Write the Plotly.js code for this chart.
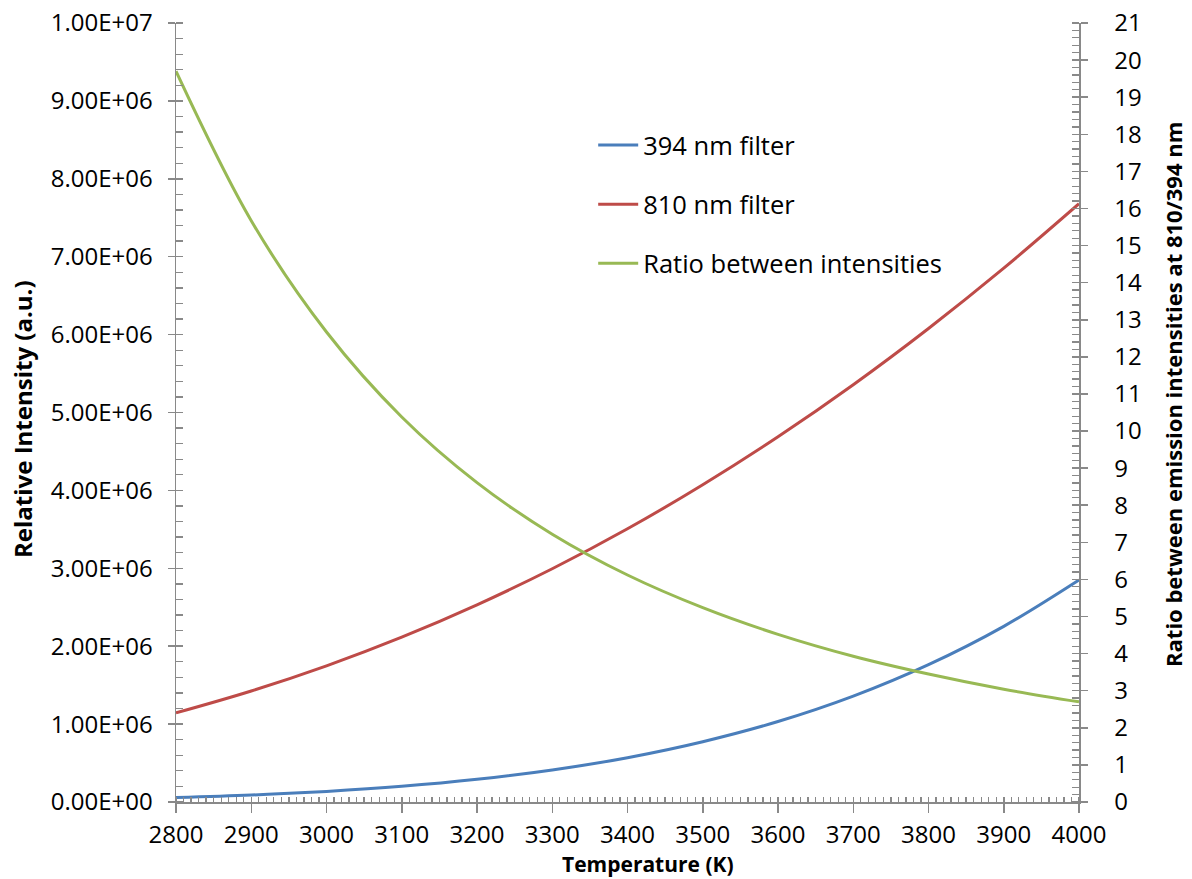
<!DOCTYPE html>
<html>
<head>
<meta charset="utf-8">
<script src="https://cdn.plot.ly/plotly-3.0.1.min.js"></script>
<style>html,body{margin:0;padding:0;background:#fff;}#chart{width:1192px;height:879px;}</style>
</head>
<body>
<div id="chart"></div>
<script>
// Temperatures (K)
const temperature = [2800, 2900, 3000, 3100, 3200, 3300, 3400, 3500, 3600, 3700, 3800, 3900, 4000];
// Relative intensity, 394 nm filter (a.u.)
const filter394 = [5.7e4, 8.9e4, 1.36e5, 2.01e5, 2.91e5, 4.11e5, 5.69e5, 7.74e5, 1.033e6, 1.359e6, 1.763e6, 2.255e6, 2.85e6];
// Relative intensity, 810 nm filter (a.u.)
const filter810 = [1.144e6, 1.425e6, 1.748e6, 2.116e6, 2.531e6, 2.994e6, 3.507e6, 4.073e6, 4.689e6, 5.357e6, 6.079e6, 6.853e6, 7.68e6];
// Ratio 810/394
const ratio = [19.70, 15.67, 12.67, 10.38, 8.61, 7.22, 6.12, 5.24, 4.52, 3.93, 3.45, 3.04, 2.70];

// Left axis tick values/labels
const leftTickVals = [0, 1e6, 2e6, 3e6, 4e6, 5e6, 6e6, 7e6, 8e6, 9e6, 1e7];
const leftTickText = ["0.00E+00", "1.00E+06", "2.00E+06", "3.00E+06", "4.00E+06", "5.00E+06", "6.00E+06", "7.00E+06", "8.00E+06", "9.00E+06", "1.00E+07"];

const FONT = "'Open Sans', Lato, sans-serif";
const AX = "#898989";

const traces = [
  {x: temperature, y: filter394, name: "394 nm filter", type: "scatter", mode: "lines",
   line: {color: "#4A7EBB", width: 3, shape: "spline"}, legendgroup: "a"},
  {x: temperature, y: filter810, name: "810 nm filter", type: "scatter", mode: "lines",
   line: {color: "#BE4B48", width: 3, shape: "spline"}, legendgroup: "b"},
  {x: temperature, y: ratio, name: "Ratio between intensities", type: "scatter", mode: "lines", yaxis: "y2",
   line: {color: "#98B954", width: 3, shape: "spline"}, legendgroup: "c"},
  // invisible helpers for inner half of crossing ticks
  {x: [], y: [], xaxis: "x2", yaxis: "y3", showlegend: false, hoverinfo: "skip", type: "scatter"},
  {x: [], y: [], xaxis: "x2", yaxis: "y4", showlegend: false, hoverinfo: "skip", type: "scatter"}
];

const tickFont = {family: FONT, size: 24, color: "#000"};
const titleFont = {family: FONT, size: 24, color: "#000", weight: "bold"};

const layout = {
  width: 1192, height: 879,
  margin: {l: 176, r: 113, t: 23, b: 77},
  paper_bgcolor: "#fff", plot_bgcolor: "#fff",
  showlegend: true,
  legend: {x: 0.462, y: 0.873, xanchor: "left", yanchor: "top", font: {family: FONT, size: 25.5, color: "#000"},
           itemwidth: 40, tracegroupgap: 23, traceorder: "grouped", bgcolor: "rgba(0,0,0,0)"},
  xaxis: {range: [2800, 4000], dtick: 100, tick0: 2800, showgrid: false, zeroline: false,
          showline: true, linecolor: AX, linewidth: 1.5, ticks: "outside", ticklen: 9, tickwidth: 1.5, tickcolor: AX,
          tickfont: tickFont, ticklabelstandoff: 2,
          minor: {dtick: 10, ticks: "inside", ticklen: 5, tickwidth: 1.3, tickcolor: AX, showgrid: false}},
  xaxis2: {range: [2800, 4000], overlaying: "x", anchor: "y", dtick: 100, tick0: 2800, showgrid: false, zeroline: false,
           showline: false, ticks: "inside", ticklen: 5, tickwidth: 1.5, tickcolor: AX, showticklabels: false},
  yaxis: {range: [0, 1e7], tickvals: leftTickVals, ticktext: leftTickText, showgrid: false, zeroline: false,
          showline: true, linecolor: AX, linewidth: 1.5, ticks: "outside", ticklen: 7, tickwidth: 1.5, tickcolor: AX,
          tickfont: tickFont, ticklabelstandoff: 10,
          minor: {dtick: 2e5, ticks: "inside", ticklen: 7, tickwidth: 1.3, tickcolor: AX, showgrid: false}},
  yaxis2: {range: [0, 21], dtick: 1, overlaying: "y", side: "right", anchor: "x", showgrid: false, zeroline: false,
           showline: true, linecolor: AX, linewidth: 1.5, ticks: "outside", ticklen: 7, tickwidth: 1.5, tickcolor: AX,
           tickfont: tickFont, ticklabelstandoff: 22,
           minor: {dtick: 0.2, ticks: "inside", ticklen: 7, tickwidth: 1.3, tickcolor: AX, showgrid: false}},
  yaxis3: {range: [0, 1e7], tickvals: leftTickVals, overlaying: "y", anchor: "x2", side: "left", showgrid: false, zeroline: false,
           showline: false, ticks: "inside", ticklen: 7, tickwidth: 1.5, tickcolor: AX, showticklabels: false},
  yaxis4: {range: [0, 21], dtick: 1, overlaying: "y", anchor: "x2", side: "right", showgrid: false, zeroline: false,
           showline: false, ticks: "inside", ticklen: 7, tickwidth: 1.5, tickcolor: AX, showticklabels: false},
  annotations: [
    {text: "Relative Intensity (a.u.)", xref: "paper", yref: "paper", x: -0.1694, y: 0.4917, textangle: -90,
     showarrow: false, xanchor: "center", yanchor: "middle", font: titleFont},
    {text: "Ratio between emission intensities at 810/394 nm", xref: "paper", yref: "paper", x: 1.1041, y: 0.5225, textangle: -90,
     showarrow: false, xanchor: "center", yanchor: "middle", font: {family: FONT, size: 22, color: "#000", weight: "bold"}},
    {text: "Temperature (K)", xref: "paper", yref: "paper", x: 0.5227, y: -0.0796,
     showarrow: false, xanchor: "center", yanchor: "middle", borderpad: 0, font: {family: FONT, size: 21, color: "#000", weight: "bold"}}
  ]
};

Plotly.newPlot("chart", traces, layout, {staticPlot: true, displayModeBar: false});
</script>
</body>
</html>
